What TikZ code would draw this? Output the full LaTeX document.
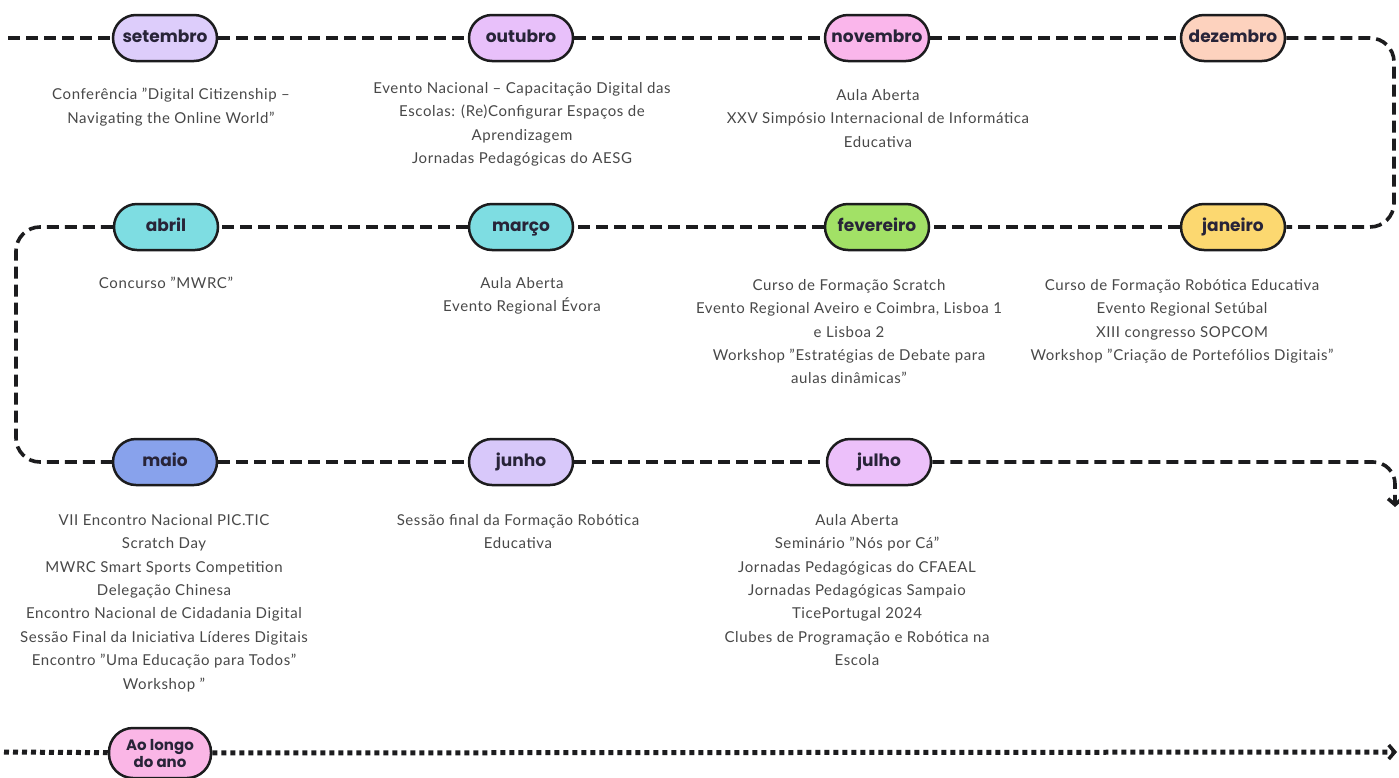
\documentclass[tikz,border=0pt]{standalone}
\usepackage{fontspec}
\setmainfont{Lato}[LetterSpace=4]
\newfontfamily\monthfont{Poppins}
\usetikzlibrary{arrows.meta}
\definecolor{ln}{RGB}{28,28,30}
\definecolor{txt}{RGB}{72,72,72}
\definecolor{mtxt}{RGB}{40,36,56}
\definecolor{cset}{RGB}{221,205,251}
\definecolor{cout}{RGB}{232,192,250}
\definecolor{cnov}{RGB}{250,182,235}
\definecolor{cdez}{RGB}{253,210,190}
\definecolor{cabr}{RGB}{126,221,226}
\definecolor{cfev}{RGB}{162,225,102}
\definecolor{cjan}{RGB}{252,216,112}
\definecolor{cmai}{RGB}{136,162,236}
\definecolor{cjun}{RGB}{216,200,250}
\definecolor{cjul}{RGB}{236,192,250}
\definecolor{cano}{RGB}{250,182,230}
\begin{document}
\begin{tikzpicture}[x=1pt,y=-1pt,
  pill/.style={draw=ln, line width=2.5pt, rounded corners=23pt, minimum width=104pt,
    minimum height=46pt, inner sep=0pt, text=mtxt},
  month/.style={pill, text height=12.5pt, text depth=3.5pt,
    font=\monthfont\bfseries\fontsize{17}{20}\selectfont},
  ev/.style={anchor=north, align=center, inner sep=0pt, text=txt,
    font=\fontsize{15}{23.4}\selectfont},
  tl/.style={draw=ln, line width=3.6pt, dash pattern=on 12pt off 6pt},
  dl/.style={draw=ln, line width=5pt, dash pattern=on 5pt off 4pt},
  tip/.style={-{Straight Barb[length=6pt,width=14pt,line width=3.5pt]}}
]
\useasboundingbox[fill=white] (0,0) rectangle (1399,777);

% row 1
\node[month, fill=cset] (set) at (165,38) {setembro};
\node[month, fill=cout] (out) at (521,38) {outubro};
\node[month, fill=cnov] (nov) at (877,38) {novembro};
\node[month, fill=cdez] (dez) at (1233,38) {dezembro};
% row 2
\node[month, fill=cabr] (abr) at (166,227) {abril};
\node[month, fill=cabr] (mar) at (521,227) {março};
\node[month, fill=cfev] (fev) at (877,227) {fevereiro};
\node[month, fill=cjan] (jan) at (1233,227) {janeiro};
% row 3
\node[month, fill=cmai] (mai) at (165,462) {maio};
\node[month, fill=cjun] (jun) at (521,462) {junho};
\node[month, fill=cjul] (jul) at (879,462) {julho};
% row 4
\node[pill, fill=cano, minimum height=50pt, minimum width=102pt, rounded corners=24pt,
  align=center, font=\monthfont\bfseries\fontsize{15}{17}\selectfont] (ano) at (160,753) {Ao longo\\do ano};

% connectors
\coordinate (s0) at (8,38);
\coordinate (c1) at (1394,130);
\coordinate (c2) at (16,345);
\coordinate (c3) at (1395,507);
\coordinate (b0) at (4,752);
\coordinate (b1) at (1397,752);

\draw[tl] (s0) -- (set);
\draw[tl] (set) -- (out);
\draw[tl] (out) -- (nov);
\draw[tl] (nov) -- (dez);
\draw[tl, rounded corners=24pt] (dez.east) -| (c1) |- (jan.east);
\draw[tl] (jan) -- (fev);
\draw[tl] (fev) -- (mar);
\draw[tl] (mar) -- (abr);
\draw[tl, rounded corners=24pt] (abr.west) -| (c2) |- (mai.west);
\draw[tl] (mai) -- (jun);
\draw[tl] (jun) -- (jul);
\draw[tl, tip, rounded corners=22pt] (jul.east) -| (c3);
\draw[dl] (b0) -- (ano);
\draw[dl, tip] (ano) -- (b1);

% event texts
\node[ev] (tset) at (171,88) {Conferência "Digital Citizenship –\\Navigating the Online World"};
\node[ev] (tout) at (522,82) {Evento Nacional – Capacitação Digital das\\Escolas: (Re)Configurar Espaços de\\Aprendizagem\\Jornadas Pedagógicas do AESG};
\node[ev] (tnov) at (878,89) {Aula Aberta\\XXV Simpósio Internacional de Informática\\Educativa};
\node[ev] (tabr) at (166,277) {Concurso "MWRC"};
\node[ev] (tmar) at (522,277) {Aula Aberta\\Evento Regional Évora};
\node[ev] (tfev) at (849,279) {Curso de Formação Scratch\\Evento Regional Aveiro e Coimbra, Lisboa 1\\e Lisboa 2\\Workshop "Estratégias de Debate para\\aulas dinâmicas"};
\node[ev] (tjan) at (1182,279) {Curso de Formação Robótica Educativa\\Evento Regional Setúbal\\XIII congresso SOPCOM\\Workshop "Criação de Portefólios Digitais"};
\node[ev] (tmai) at (164,514) {VII Encontro Nacional PIC.TIC\\Scratch Day\\MWRC Smart Sports Competition\\Delegação Chinesa\\Encontro Nacional de Cidadania Digital\\Sessão Final da Iniciativa Líderes Digitais\\Encontro "Uma Educação para Todos"\\Workshop "};
\node[ev] (tjun) at (518,514) {Sessão final da Formação Robótica\\Educativa};
\node[ev] (tjul) at (857,514) {Aula Aberta\\Seminário "Nós por Cá"\\Jornadas Pedagógicas do CFAEAL\\Jornadas Pedagógicas Sampaio\\TicePortugal 2024\\Clubes de Programação e Robótica na\\Escola};
\end{tikzpicture}
\end{document}
